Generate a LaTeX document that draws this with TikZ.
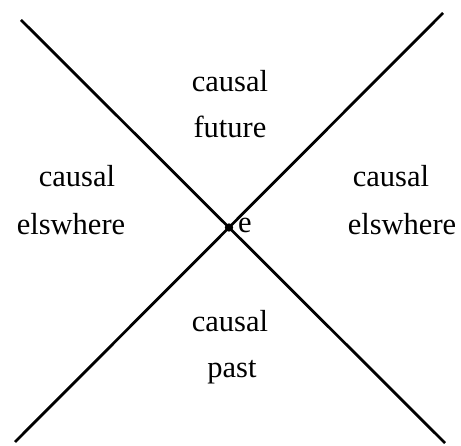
\documentclass[tikz,border=0pt]{standalone}
\usepackage{fontspec}
\setmainfont{Liberation Serif}
\usetikzlibrary{intersections}
\tikzset{
  cone/.style={line width=2.8pt},
  lbl/.style={anchor=base, inner sep=0pt, font=\fontsize{30.5}{36}\selectfont},
}
\begin{document}
\begin{tikzpicture}[x=1pt,y=-1pt]
\useasboundingbox (0,0) rectangle (461,446);
\coordinate (a1) at (21,20);
\coordinate (a2) at (445,443);
\coordinate (b1) at (443,13);
\coordinate (b2) at (15,442);
\draw[cone, name path=A] (a1) -- (a2);
\draw[cone, name path=B] (b1) -- (b2);
\path[name intersections={of=A and B, by=e0}];
\fill (e0) circle (4.2pt);
\node[lbl] (e) at (245,233) {e};
\node[lbl] (f1) at (230,92) {causal};
\node[lbl] (f2) at (230,138) {future};
\node[lbl] (l1) at (77,187) {causal};
\node[lbl] (l2) at (71,235) {elswhere};
\node[lbl] (r1) at (391,187) {causal};
\node[lbl] (r2) at (402,235) {elswhere};
\node[lbl] (p1) at (230,332) {causal};
\node[lbl] (p2) at (232,378) {past};
\end{tikzpicture}
\end{document}
